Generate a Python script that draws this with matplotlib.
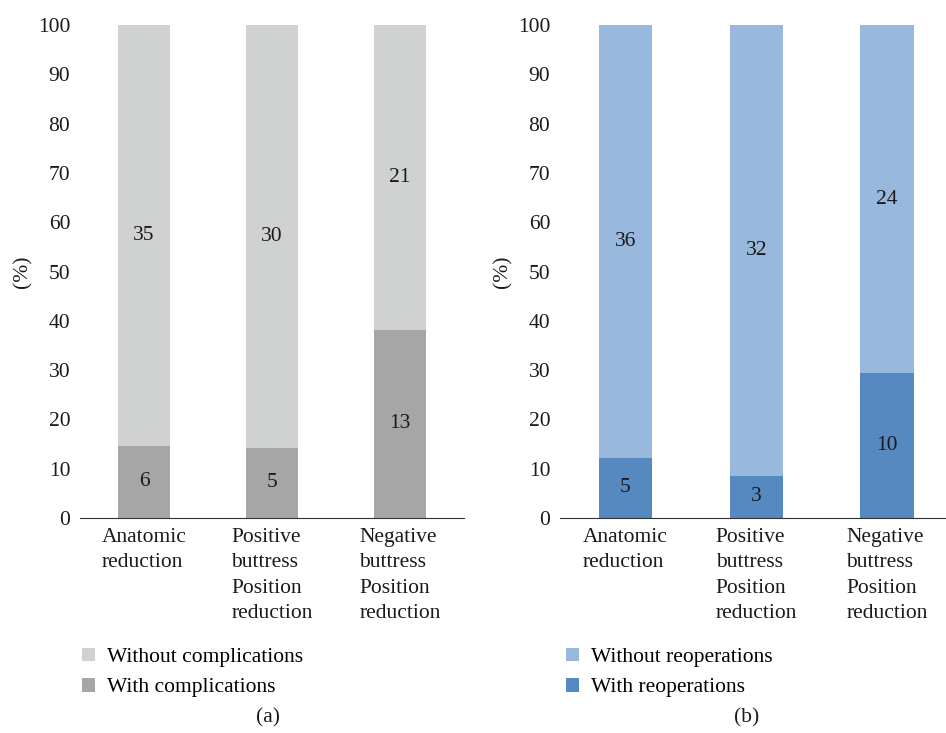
import matplotlib.pyplot as plt
import numpy as np

plt.rcParams['font.family'] = ['Liberation Serif', 'DejaVu Serif']

categories = ["Anatomic\nreduction", "Positive\nbuttress\nPosition\nreduction", "Negative\nbuttress\nPosition\nreduction"]

with_compl = [6, 5, 13]
without_compl = [35, 30, 21]
with_reop = [5, 3, 10]
without_reop = [36, 32, 24]

panels = [
    (with_compl, without_compl, "With complications", "Without complications", "#a6a6a6", "#d0d2d1", "(a)"),
    (with_reop, without_reop, "With reoperations", "Without reoperations", "#5589bf", "#98b8de", "(b)"),
]

fig = plt.figure(figsize=(9.46, 7.33), dpi=100)
ax_pos = [[0.0846, 0.2933, 0.406, 0.6726], [0.592, 0.2933, 0.415, 0.6726]]
leg_x = [0.078, 0.589]
cap_x = [0.283, 0.789]

for i, (w, wo, lab_w, lab_wo, c_dark, c_light, cap) in enumerate(panels):
    ax = fig.add_axes(ax_pos[i])
    w = np.array(w, dtype=float)
    wo = np.array(wo, dtype=float)
    tot = w + wo
    pw = w / tot * 100
    pwo = wo / tot * 100
    x = np.arange(len(categories))
    b1 = ax.bar(x, pw, width=0.41, color=c_dark, label=lab_w)
    b2 = ax.bar(x, pwo, width=0.41, bottom=pw, color=c_light, label=lab_wo)
    for j in range(len(x)):
        ax.text(x[j], pw[j] / 2, str(int(w[j])), ha='center', va='center', fontsize=15.5, color='#1a1a1a')
        ax.text(x[j], pw[j] + pwo[j] / 2, str(int(wo[j])), ha='center', va='center', fontsize=15.5, color='#1a1a1a')
    ax.set_xlim(-0.5, 2.5)
    ax.set_ylim(0, 100)
    ax.set_yticks(range(0, 101, 10))
    ax.set_xticks(x)
    ax.set_xticklabels(categories, ma='left', linespacing=1.47)
    ax.tick_params(axis='both', length=0, labelsize=15.5, colors='#1a1a1a')
    ax.tick_params(axis='y', pad=7)
    ax.tick_params(axis='x', pad=7)
    for s in ['top', 'right', 'left']:
        ax.spines[s].set_visible(False)
    ax.spines['bottom'].set_color('#333333')
    ax.set_ylabel("(%)", fontsize=15.5, color='#1a1a1a', labelpad=4)
    ax.legend([b2, b1], [lab_wo, lab_w], loc='upper left',
              bbox_to_anchor=(leg_x[i], 0.128), bbox_transform=fig.transFigure,
              frameon=False, fontsize=15.5, handlelength=0.6, handleheight=0.6,
              handletextpad=0.55, labelspacing=0.5, borderaxespad=0)
    fig.text(cap_x[i], 0.02, cap, ha='center', va='center', fontsize=15.5, color='#1a1a1a')

fig.savefig("out.png", dpi=100)
